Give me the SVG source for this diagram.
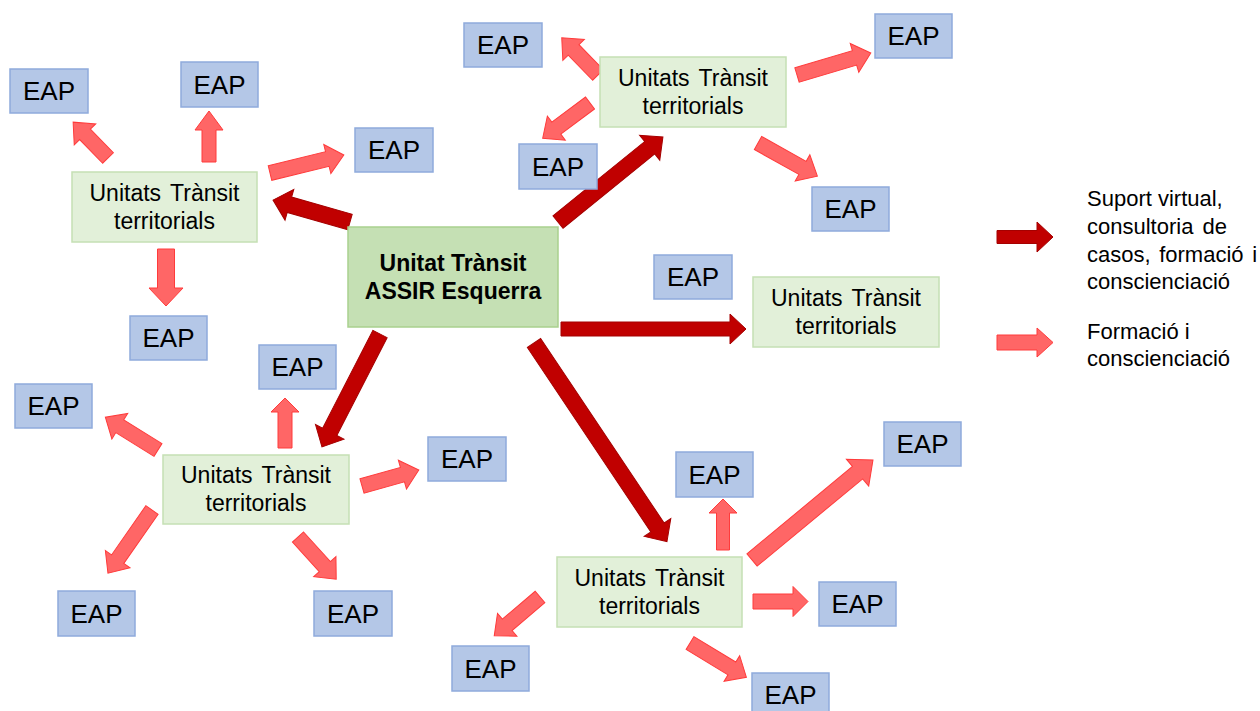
<svg xmlns="http://www.w3.org/2000/svg" width="1260" height="711" viewBox="0 0 1260 711">
<style>
text{font-family:"Liberation Sans",Arial,sans-serif;fill:#000;text-anchor:middle}
.eap rect{fill:#B4C7E7;stroke:#8FAADC;stroke-width:1.5}
.eap text{font-size:26px}
.utt rect{fill:#E2F0D9;stroke:#C5E0B4;stroke-width:1.5}
.utt text{font-size:23px;word-spacing:3px}
.main rect{fill:#C5E0B4;stroke:#A9D18E;stroke-width:1.5}
.main text{font-size:23px;font-weight:bold}
.dk{fill:#C00000;stroke:#A50000;stroke-width:1}
.lt{fill:#FF6666;stroke:#FF3B3B;stroke-width:1}
.leg{font-size:22px;text-anchor:start}
</style>
<rect width="1260" height="711" fill="#fff"/>
<g id="connectors">
<!-- dark arrows -->
<polygon class="dk" transform="translate(350 222) rotate(195.9)" points="0,-8 63,-8 63,-16 80,0 63,16 63,8 0,8"/>
<polygon class="dk" transform="translate(558 222) rotate(-39)" points="0,-8 118,-8 118,-16 135,0 118,16 118,8 0,8"/>
<polygon class="dk" transform="translate(561 329)" points="0,-7 169,-7 169,-15 185,0 169,15 169,7 0,7"/>
<polygon class="dk" transform="translate(380 334) rotate(117.2)" points="0,-8 110,-8 110,-16 127,0 110,16 110,8 0,8"/>
<polygon class="dk" transform="translate(534 343) rotate(56.2)" points="0,-8 222,-8 222,-16 239,0 222,16 222,8 0,8"/>
<!-- top-left cluster -->
<polygon class="lt" transform="translate(108 158) rotate(-134.2)" points="0,-7.5 33,-7.5 33,-15 50,0 33,15 33,7.5 0,7.5"/>
<polygon class="lt" transform="translate(209 162) rotate(-90)" points="0,-7 32,-7 32,-14 51,0 32,14 32,7 0,7"/>
<polygon class="lt" transform="translate(270 173) rotate(-13.7)" points="0,-7.5 59,-7.5 59,-15 76,0 59,15 59,7.5 0,7.5"/>
<polygon class="lt" transform="translate(166 249) rotate(90)" points="0,-8.5 39,-8.5 39,-17 57,0 39,17 39,8.5 0,8.5"/>
<!-- top cluster -->
<polygon class="lt" transform="translate(598 75) rotate(-134.2)" points="0,-7.5 35,-7.5 35,-15 52,0 35,15 35,7.5 0,7.5"/>
<polygon class="lt" transform="translate(590 103) rotate(143.3)" points="0,-7.5 42,-7.5 42,-15 59,0 42,15 42,7.5 0,7.5"/>
<polygon class="lt" transform="translate(797 75) rotate(-16.6)" points="0,-7.5 60,-7.5 60,-15 77,0 60,15 60,7.5 0,7.5"/>
<polygon class="lt" transform="translate(758 143) rotate(29.2)" points="0,-7.5 51,-7.5 51,-15 68,0 51,15 51,7.5 0,7.5"/>
<!-- bottom-left cluster -->
<polygon class="lt" transform="translate(285 448) rotate(-90)" points="0,-7 36,-7 36,-14 50,0 36,14 36,7 0,7"/>
<polygon class="lt" transform="translate(158 450) rotate(211.9)" points="0,-7.5 45,-7.5 45,-15 62,0 45,15 45,7.5 0,7.5"/>
<polygon class="lt" transform="translate(362 486) rotate(-15.7)" points="0,-7.5 42,-7.5 42,-15 59,0 42,15 42,7.5 0,7.5"/>
<polygon class="lt" transform="translate(152 510) rotate(124.9)" points="0,-7.5 60,-7.5 60,-15 77,0 60,15 60,7.5 0,7.5"/>
<polygon class="lt" transform="translate(298 537) rotate(47.9)" points="0,-7.5 40,-7.5 40,-15 57,0 40,15 40,7.5 0,7.5"/>
<!-- bottom cluster -->
<polygon class="lt" transform="translate(723 550) rotate(-90)" points="0,-6.5 37,-6.5 37,-14 51,0 37,14 37,6.5 0,6.5"/>
<polygon class="lt" transform="translate(752 560) rotate(-39.6)" points="0,-8 137,-8 137,-17.5 157,0 137,17.5 137,8 0,8"/>
<polygon class="lt" transform="translate(753 601.5)" points="0,-7.5 40,-7.5 40,-15 55,0 40,15 40,7.5 0,7.5"/>
<polygon class="lt" transform="translate(540 597) rotate(139.7)" points="0,-7.5 43,-7.5 43,-15 60,0 43,15 43,7.5 0,7.5"/>
<polygon class="lt" transform="translate(690 643) rotate(31.3)" points="0,-7.5 49,-7.5 49,-15 66,0 49,15 49,7.5 0,7.5"/>
</g>
<g id="main" class="main"><rect x="348" y="227" width="210" height="100"/><text x="453" y="271">Unitat Trànsit</text><text x="453" y="299">ASSIR Esquerra</text></g>
<g id="utt-left" class="utt"><rect x="72" y="172" width="185" height="70"/><text x="164.5" y="201">Unitats Trànsit</text><text x="164.5" y="229">territorials</text></g>
<g id="utt-top" class="utt"><rect x="600" y="57" width="186" height="70"/><text x="693" y="86">Unitats Trànsit</text><text x="693" y="114">territorials</text></g>
<g id="utt-right" class="utt"><rect x="753" y="277" width="186" height="70"/><text x="846" y="306">Unitats Trànsit</text><text x="846" y="334">territorials</text></g>
<g id="utt-bottomleft" class="utt"><rect x="163" y="455" width="186" height="69"/><text x="256" y="483">Unitats Trànsit</text><text x="256" y="511">territorials</text></g>
<g id="utt-bottom" class="utt"><rect x="557" y="557" width="185" height="70"/><text x="649.5" y="586">Unitats Trànsit</text><text x="649.5" y="614">territorials</text></g>
<g id="eap1" class="eap"><rect x="10" y="69" width="78" height="44"/><text x="49" y="100">EAP</text></g>
<g id="eap2" class="eap"><rect x="181" y="62" width="77" height="45"/><text x="219.5" y="94">EAP</text></g>
<g id="eap3" class="eap"><rect x="355" y="128" width="78" height="44"/><text x="394" y="159">EAP</text></g>
<g id="eap4" class="eap"><rect x="130" y="316" width="77" height="44"/><text x="168.5" y="347">EAP</text></g>
<g id="eap5" class="eap"><rect x="464" y="23" width="78" height="44"/><text x="503" y="54">EAP</text></g>
<g id="eap6" class="eap"><rect x="875" y="14" width="77" height="44"/><text x="913.5" y="45">EAP</text></g>
<g id="eap7" class="eap"><rect x="519" y="144" width="78" height="45"/><text x="558" y="176">EAP</text></g>
<g id="eap8" class="eap"><rect x="812" y="187" width="77" height="44"/><text x="850.5" y="218">EAP</text></g>
<g id="eap9" class="eap"><rect x="654" y="255" width="78" height="44"/><text x="693" y="286">EAP</text></g>
<g id="eap10" class="eap"><rect x="259" y="345" width="77" height="44"/><text x="297.5" y="376">EAP</text></g>
<g id="eap11" class="eap"><rect x="15" y="384" width="77" height="44"/><text x="53.5" y="415">EAP</text></g>
<g id="eap12" class="eap"><rect x="428" y="437" width="78" height="44"/><text x="467" y="468">EAP</text></g>
<g id="eap13" class="eap"><rect x="58" y="591" width="77" height="45"/><text x="96.5" y="623">EAP</text></g>
<g id="eap14" class="eap"><rect x="314" y="591" width="78" height="45"/><text x="353" y="623">EAP</text></g>
<g id="eap15" class="eap"><rect x="676" y="452" width="77" height="45"/><text x="714.5" y="484">EAP</text></g>
<g id="eap16" class="eap"><rect x="884" y="422" width="77" height="44"/><text x="922.5" y="453">EAP</text></g>
<g id="eap17" class="eap"><rect x="819" y="582" width="77" height="44"/><text x="857.5" y="613">EAP</text></g>
<g id="eap18" class="eap"><rect x="452" y="646" width="77" height="45"/><text x="490.5" y="678">EAP</text></g>
<g id="eap19" class="eap"><rect x="752" y="673" width="77" height="44"/><text x="790.5" y="704">EAP</text></g>
<g id="legend">
<polygon class="dk" transform="translate(997 237)" points="0,-6.5 40,-6.5 40,-15 56,0 40,15 40,6.5 0,6.5"/>
<polygon class="lt" transform="translate(997 342.5)" points="0,-7.5 40,-7.5 40,-14.5 56,0 40,14.5 40,7.5 0,7.5"/>
<text class="leg" x="1087" y="206">Suport virtual,</text>
<text class="leg" x="1087" y="234" word-spacing="3">consultoria de</text>
<text class="leg" x="1087" y="262" word-spacing="2.5">casos, formació i</text>
<text class="leg" x="1087" y="289">conscienciació</text>
<text class="leg" x="1087" y="339">Formació i</text>
<text class="leg" x="1087" y="366">conscienciació</text>
</g>
</svg>
